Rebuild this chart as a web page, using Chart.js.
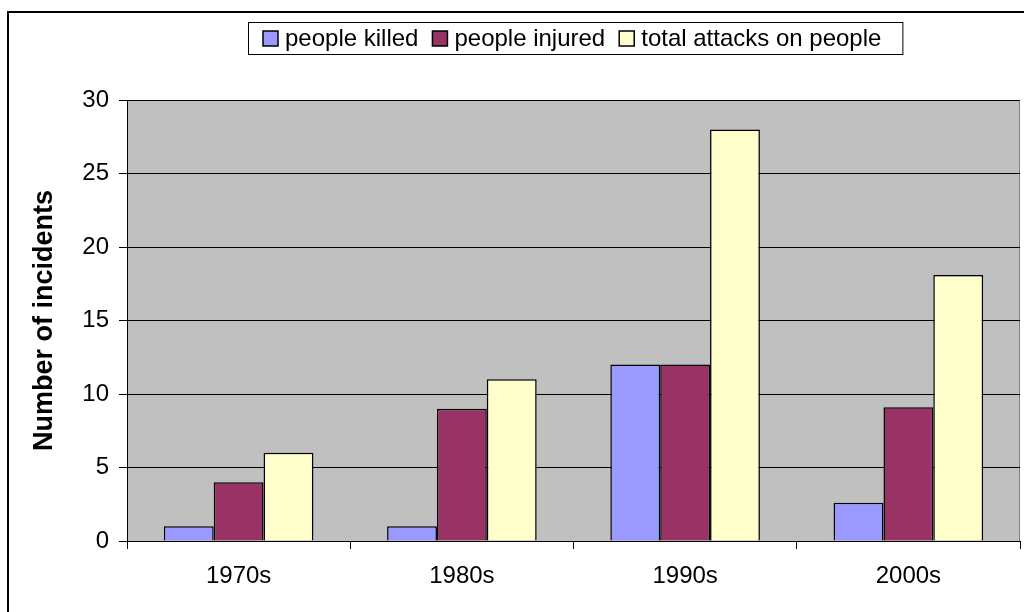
<!DOCTYPE html>
<html>
<head>
<meta charset="utf-8">
<script src="https://cdn.jsdelivr.net/npm/chart.js@4"></script>
<style>
  html, body { margin: 0; padding: 0; background: #fff; }
  canvas { display: block; }
</style>
</head>
<body>
<canvas id="c" width="1024" height="612"></canvas>
<script>
const categories = ['1970s', '1980s', '1990s', '2000s'];
const seriesNames = ['people killed', 'people injured', 'total attacks on people'];
const killed = [1, 1, 12, 2.6];
const injured = [4, 9, 12, 9.1];
const totalAttacks = [6, 11, 28, 18.1];
const yTicks = [0, 5, 10, 15, 20, 25, 30];
const seriesColors = ['#9999FF', '#993366', '#FFFFCC'];
const yTitle = 'Number of incidents';

const FONT = '"Liberation Sans", Arial, sans-serif';

const framePlugin = {
  id: 'frame',
  beforeDraw(chart) {
    const ctx = chart.ctx;
    const a = chart.chartArea;
    ctx.save();
    ctx.fillStyle = '#fff';
    ctx.fillRect(0, 0, chart.width, chart.height);
    ctx.strokeStyle = '#000';
    ctx.lineWidth = 2;
    ctx.beginPath();
    ctx.moveTo(8, chart.height + 5);
    ctx.lineTo(8, 12);
    ctx.lineTo(chart.width + 5, 12);
    ctx.stroke();
    ctx.fillStyle = '#C0C0C0';
    ctx.fillRect(a.left, a.top, a.right - a.left, a.bottom - a.top);
    ctx.strokeStyle = '#808080';
    ctx.lineWidth = 1;
    ctx.strokeRect(a.left + 0.5, a.top + 0.5, a.right - a.left - 1, a.bottom - a.top);
    ctx.restore();
  },
  afterDraw(chart) {
    const ctx = chart.ctx;
    ctx.save();
    ctx.font = '24px ' + FONT;
    ctx.textBaseline = 'middle';
    const box = 15, gapBoxText = 7, gapItems = 14, padL = 15, padR = 21;
    const ds = chart.data.datasets;
    const widths = ds.map(d => box + gapBoxText + ctx.measureText(d.label).width);
    const total = widths.reduce((s, w) => s + w, 0) + gapItems * (ds.length - 1) + padL + padR;
    const cx = 575, top = 22, h = 32;
    const left = Math.round(cx - total / 2);
    ctx.fillStyle = '#fff';
    ctx.fillRect(left, top, total, h);
    ctx.strokeStyle = '#000';
    ctx.lineWidth = 1;
    ctx.strokeRect(left + 0.5, top + 0.5, total, h);
    let x = left + padL;
    const cy = top + h / 2 + 0.5;
    ds.forEach((d, i) => {
      ctx.fillStyle = d.backgroundColor;
      ctx.fillRect(x, cy - box / 2, box, box);
      ctx.strokeStyle = '#000';
      ctx.lineWidth = 1.5;
      ctx.strokeRect(x, cy - box / 2, box, box);
      ctx.fillStyle = '#000';
      ctx.fillText(d.label, x + box + gapBoxText, cy + 1);
      x += widths[i] + gapItems;
    });
    ctx.restore();
  }
};

new Chart(document.getElementById('c'), {
  type: 'bar',
  data: {
    labels: categories,
    datasets: [
      { label: seriesNames[0], data: killed, backgroundColor: seriesColors[0] },
      { label: seriesNames[1], data: injured, backgroundColor: seriesColors[1] },
      { label: seriesNames[2], data: totalAttacks, backgroundColor: seriesColors[2] }
    ].map(d => Object.assign(d, { borderColor: '#000', borderWidth: 1.5, categoryPercentage: 0.67, barPercentage: 1.0 }))
  },
  options: {
    responsive: false,
    animation: false,
    devicePixelRatio: 1,
    layout: { padding: { left: 0, top: 100, right: 4, bottom: 0 } },
    plugins: {
      legend: { display: false },
      tooltip: { enabled: false }
    },
    scales: {
      x: {
        offset: true,
        grid: { display: true, drawOnChartArea: false, drawTicks: true, tickLength: 8, color: '#000', offset: true },
        border: { display: true, color: '#000', width: 1 },
        ticks: { color: '#000', font: { family: FONT, size: 24 }, padding: 13, maxRotation: 0 },
        afterFit(scale) { scale.height = 71; }
      },
      y: {
        min: 0, max: 30,
        afterBuildTicks(scale) { scale.ticks = yTicks.map(v => ({ value: v })); },
        grid: { color: '#000', lineWidth: 1, tickLength: 8, drawTicks: true },
        border: { display: true, color: '#000', width: 1 },
        ticks: { color: '#000', font: { family: FONT, size: 24 }, padding: 10 },
        title: { display: true, text: yTitle, color: '#000', font: { family: FONT, size: 27, weight: 'bold' }, padding: { top: 28, bottom: 0 } },
        afterFit(scale) { scale.width = 127; }
      }
    }
  },
  plugins: [framePlugin]
});
</script>
</body>
</html>
